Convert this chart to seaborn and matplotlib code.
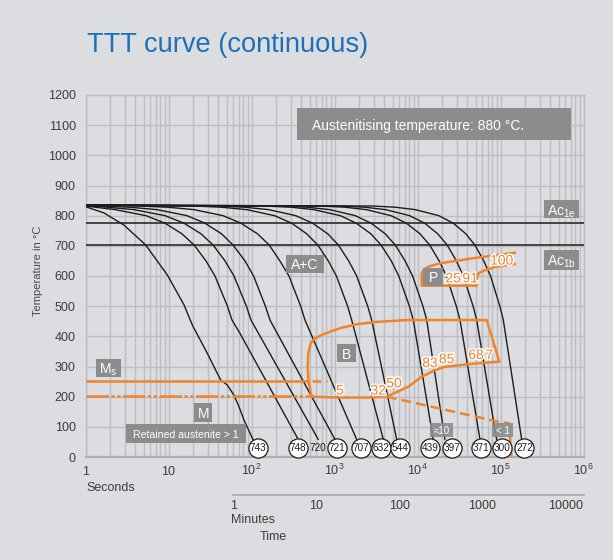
import matplotlib
matplotlib.use("Agg")
import matplotlib.pyplot as plt
import seaborn as sns
import matplotlib.patheffects as pe
from matplotlib.patches import Rectangle
from matplotlib.ticker import FixedLocator, FixedFormatter, LogLocator, NullLocator, NullFormatter

# ---------------- data ----------------
T_std = [835, 832, 828, 820, 800, 775, 740, 703, 650, 600, 500, 454, 58]

c743_t = [1, 1.67, 2.9, 5.3, 9.7, 15.4, 19.4, 29.3, 37, 42.6, 51, 61.5, 70.6, 81, 105]
c743_T = [830, 809, 769, 703, 603, 504, 437, 344, 288, 255, 239, 205, 167, 123, 56]
c748_t = [1, 2.27, 5.36, 9.08, 14.5, 20.3, 28.3, 36.3, 51.3, 58.2, 72.6, 366]
c748_T = [832, 820, 800, 775, 740, 703, 650, 600, 500, 454, 410, 58]
c720_t = [1, 1.82, 3.84, 9.08, 15.4, 24.6, 34.4, 48.0, 61.5, 86.8, 98.6, 638]
c720_T = [834, 828, 820, 800, 775, 740, 703, 650, 600, 500, 454, 58]
c721_t = [1, 1.50, 3.44, 7.27, 16.7, 27.5, 43.5, 59.8, 83.5, 106, 147, 167, 1014]
c707_t = [1, 4.41, 9.86, 20.3, 45.4, 74.7, 118, 163, 220, 283, 391, 441, 1851]
c632_t = [1, 20.4, 43.7, 87.5, 190, 305, 462, 628, 842, 1054, 1439, 1611, 3873]
c544_t = [1, 39.1, 82.8, 161, 341, 546, 828, 1111, 1483, 1851, 2512, 2806, 5615]
c439_t = [1, 143, 302, 563, 1175, 1832, 2737, 3631, 4833, 5952, 7983, 8897, 15490]
c397_t = [1, 231, 469, 875, 1782, 2761, 4083, 5386, 7092, 8730, 11620, 12910, 21430]
c371_t = [1, 669, 1339, 2421, 4797, 7346, 10710, 13990, 18250, 22290, 29330, 32510, 56620]
c300_t = [1, 1172, 2312, 4140, 8054, 12210, 17510, 22730, 29420, 35730, 46770, 51670, 89760]
c272_t = [1, 2853, 5404, 9396, 18070, 27000, 38180, 48980, 62920, 75860, 98170, 108100, 180000]

hv_labels = ['743', '748', '720', '721', '707', '632', '544', '439', '397', '371', '300', '272']
hv_t = [121, 366, 628, 1072, 2063, 3622, 6120, 14150, 26050, 58200, 103300, 193600]
hv_circled = [True, True, False, True, True, True, True, True, True, True, True, True]
hv_T = 29

B_t = [531, 483, 476, 483, 517, 582, 733, 1164, 1851, 2932, 7413, 68230, 96750,
       53580, 21450, 16250, 11240, 7749, 4256, 2443, 1164, 531]
B_T = [200, 255, 299, 344, 377, 393, 407, 427, 440, 447, 454, 454, 316,
       311, 299, 288, 266, 233, 200, 197, 197, 200]
P_t = [149600, 47000, 18660, 13490, 11980, 11240, 11240, 51650, 51650, 55080, 62080, 85900, 149600]
P_T = [677, 659, 642, 631, 622, 609, 568, 568, 598, 610, 617, 630, 640]
D_t = [4256, 94000, 126600, 135700]
D_T = [200, 117, 112, 0]
Ms_T = 252
Ms_solid_t = [1, 483]
Ms_dash_t = [531, 819]
M50_T = 201
M50_t = [1, 531]
Ac1e_T = 775
Ac1b_T = 703

orange_labels = ['5', '32', '50', '83', '85', '68', '7', '25', '91', '100']
orange_t = [1164, 3373, 5212, 14150, 22480, 50690, 73280, 26990, 42920, 103300]
orange_T = [220, 220, 244, 311, 324, 338, 338, 592, 592, 651]

sec_ticks = [1, 10, 100, 1000, 10000, 100000, 1000000]
sec_labels = ['1', '10', r'$\mathregular{10^2}$', r'$\mathregular{10^3}$',
              r'$\mathregular{10^4}$', r'$\mathregular{10^5}$', r'$\mathregular{10^6}$']
min_ticks = [1, 10, 100, 1000, 10000]
min_labels = ['1', '10', '100', '1000', '10000']
temp_ticks = list(range(0, 1300, 100))

# ---------------- style ----------------
sns.set_theme(style="white")
plt.rcParams['font.family'] = ['Liberation Sans', 'DejaVu Sans']
plt.rcParams['mathtext.fontset'] = 'custom'
plt.rcParams['mathtext.rm'] = 'Liberation Sans'
plt.rcParams['mathtext.it'] = 'Liberation Sans'

BG = '#dcdde0'
GRID = '#bdbec1'
BOX = '#8b8c8e'
ORANGE = '#f0832c'
INK = '#1c1c1c'
TXT = '#3c3c3c'

W, H = 613, 560
fig = plt.figure(figsize=(W / 100, H / 100), dpi=100)
fig.patch.set_facecolor(BG)

AX_L, AX_R, AX_T, AX_B = 85.5, 583.5, 95, 457
ax = fig.add_axes([AX_L / W, 1 - AX_B / H, (AX_R - AX_L) / W, (AX_B - AX_T) / H])
ax.set_facecolor(BG)
ax.set_xscale('log')
ax.set_xlim(1, 1e6)
ax.set_ylim(0, 1200)

ax.xaxis.set_major_locator(FixedLocator(sec_ticks))
ax.xaxis.set_major_formatter(FixedFormatter(sec_labels))
ax.xaxis.set_minor_locator(LogLocator(base=10, subs=range(2, 10), numticks=20))
ax.xaxis.set_minor_formatter(NullFormatter())
ax.yaxis.set_major_locator(FixedLocator(temp_ticks))
ax.grid(True, which='both', color=GRID, lw=1.0)
ax.set_axisbelow(True)
ax.tick_params(axis='both', which='both', length=0, labelsize=9, labelcolor=TXT)
ax.tick_params(axis='y', pad=7)
ax.tick_params(axis='x', pad=13)
for lab in ax.get_xticklabels():
    lab.set_verticalalignment('baseline')
for s in ['left', 'top', 'right']:
    ax.spines[s].set_color(GRID)
    ax.spines[s].set_linewidth(1.0)
ax.spines['bottom'].set_color('#aeafb2')
ax.spines['bottom'].set_linewidth(1.6)

# Ac lines
ax.axhline(Ac1e_T, color=INK, lw=1.1, zorder=3)
ax.axhline(Ac1b_T, color=INK, lw=1.1, zorder=3)

# cooling curves
curves = [(c743_t, c743_T), (c748_t, c748_T), (c720_t, c720_T), (c721_t, T_std),
          (c707_t, T_std), (c632_t, T_std), (c544_t, T_std), (c439_t, T_std),
          (c397_t, T_std), (c371_t, T_std), (c300_t, T_std), (c272_t, T_std)]
for t, T in curves:
    sns.lineplot(x=t, y=T, ax=ax, color=INK, lw=1.0, sort=False, estimator=None, zorder=4)

# transformation regions (orange)
ax.plot(B_t, B_T, color=ORANGE, lw=1.8, zorder=5, solid_joinstyle='round')
ax.plot(P_t, P_T, color=ORANGE, lw=1.8, zorder=5, solid_joinstyle='round')
ax.plot(D_t, D_T, color=ORANGE, lw=1.8, zorder=5, dashes=(4, 2))
ax.plot(Ms_solid_t, [Ms_T, Ms_T], color=ORANGE, lw=1.8, zorder=5)
ax.plot(Ms_dash_t, [Ms_T, Ms_T], color=ORANGE, lw=1.8, zorder=5, dashes=(3.5, 2))
ax.plot(M50_t, [M50_T, M50_T], color=ORANGE, lw=1.8, zorder=5,
        dashes=(9, 1.0, 1.3, 1.0, 1.3, 1.0), dash_capstyle='butt')

for lab, t, T in zip(orange_labels, orange_t, orange_T):
    ax.text(t, T, lab, color=ORANGE, fontsize=10, ha='center', va='center', zorder=7,
            path_effects=[pe.withStroke(linewidth=2.2, foreground='white')])

# hardness circles
circ_t = [t for t, c in zip(hv_t, hv_circled) if c]
sns.scatterplot(x=circ_t, y=[hv_T] * len(circ_t), ax=ax, s=190, color='white',
                edgecolor=INK, linewidth=0.9, zorder=8, clip_on=False)
for lab, t in zip(hv_labels, hv_t):
    ax.text(t, hv_T, lab, fontsize=7.2, color=INK, ha='center', va='center', zorder=9)

# ---------------- boxes & labels ----------------
def fx(x):
    return x / W

def fy(y):
    return 1 - y / H

def box(x0, y0, x1, y1, text=None, fs=10, tx=None, ha='center', alpha=1.0):
    fig.add_artist(Rectangle((fx(x0), fy(y1)), (x1 - x0) / W, (y1 - y0) / H,
                             transform=fig.transFigure, facecolor=BOX,
                             edgecolor='none', alpha=alpha, zorder=10))
    if text:
        xx = (x0 + x1) / 2 if tx is None else tx
        fig.text(fx(xx), fy((y0 + y1) / 2), text, ha=ha, va='center_baseline',
                 color='white', fontsize=fs, zorder=11)

box(297.3, 108.3, 570.7, 140, 'Austenitising temperature: 880 °C.', fs=10, tx=311.7, ha='left')
box(544.3, 200, 579, 218.3, r'$\mathregular{Ac_{1e}}$', fs=10)
box(544.3, 250, 579, 270, r'$\mathregular{Ac_{1b}}$', fs=10)
box(286, 255, 324, 272.7, 'A+C', fs=10)
box(337.3, 344, 355.7, 362.3, 'B', fs=10)
box(423.3, 268.3, 442.7, 285.7, 'P', fs=10)
box(95.7, 359.3, 121.3, 376.7, r'$\mathregular{M_s}$', fs=10)
box(194, 403.3, 212.3, 421.7, 'M', fs=10)
box(126.3, 424.3, 245.7, 443.3, 'Retained austenite > 1', fs=7.6)
box(430, 423.3, 453.3, 437.3, '≈10', fs=7, alpha=0.9)
box(491.7, 423.3, 513.3, 437.3, '< 1', fs=7, alpha=0.9)

# minutes axis
ax2 = fig.add_axes([AX_L / W, fy(494.7), (AX_R - AX_L) / W, 0.0005])
ax2.set_facecolor('none')
ax2.set_xscale('log')
ax2.set_xlim(1 / 60, 1e6 / 60)
ax2.yaxis.set_visible(False)
for s in ['left', 'top', 'right']:
    ax2.spines[s].set_visible(False)
ax2.spines['bottom'].set_color('#a7a8ab')
ax2.spines['bottom'].set_linewidth(1.2)
ax2.spines['bottom'].set_bounds(1, 1e6 / 60)
ax2.xaxis.set_major_locator(FixedLocator(min_ticks))
ax2.xaxis.set_major_formatter(FixedFormatter(min_labels))
ax2.xaxis.set_minor_locator(NullLocator())
ax2.tick_params(axis='x', direction='in', length=6, width=1.2, color='#a7a8ab',
                labelsize=9, labelcolor=TXT, pad=4)

fig.text(fx(86), fy(488), 'Seconds', fontsize=9, color=TXT, ha='left', va='center')
fig.text(fx(231), fy(520), 'Minutes', fontsize=9, color=TXT, ha='left', va='center')
fig.text(fx(260), fy(537), 'Time', fontsize=9, color=TXT, ha='left', va='center')
fig.text(fx(38), fy(271), 'Temperature in °C', fontsize=8, color='#4a4a4a',
         rotation=90, ha='center', va='center')
fig.text(fx(87), fy(45), 'TTT curve (continuous)', fontsize=19.6, color='#1d6fb8',
         ha='left', va='center')

fig.savefig('out.png', dpi=100, facecolor=BG)
